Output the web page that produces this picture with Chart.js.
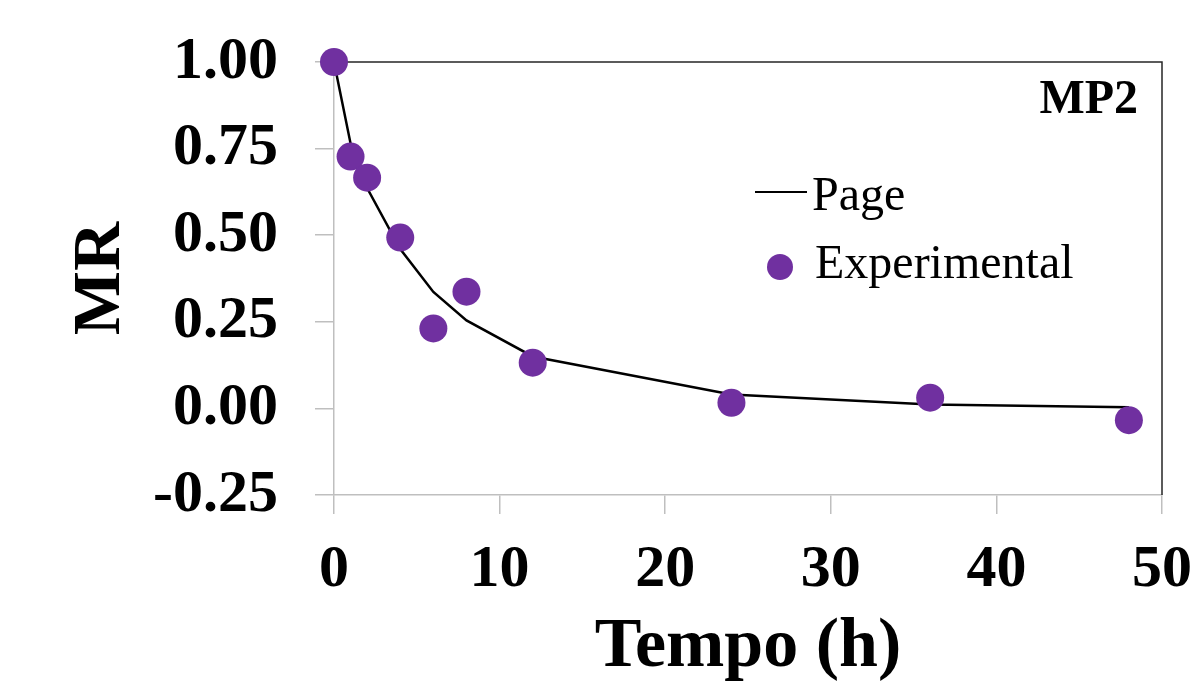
<!DOCTYPE html>
<html>
<head>
<meta charset="utf-8">
<script src="https://cdn.jsdelivr.net/npm/chart.js@4.4.1/dist/chart.umd.min.js"></script>
<style>
  html, body { margin: 0; padding: 0; background: #fff; }
  #wrap { width: 1198px; height: 681px; position: relative; }
</style>
</head>
<body>
<div id="wrap"><canvas id="mrChart"></canvas></div>
<script>
// time (h) and moisture ratio
const tempo = [0, 1, 2, 4, 6, 8, 12, 24, 36, 48];
const mrExperimental = [1.0, 0.727, 0.666, 0.493, 0.231, 0.337, 0.132, 0.016, 0.031, -0.034];
const mrPage = [1.0, 0.765, 0.636, 0.46, 0.336, 0.254, 0.15, 0.04, 0.011, 0.003];
const xTicks = [0, 10, 20, 30, 40, 50];
const yTicks = [-0.25, 0, 0.25, 0.5, 0.75, 1.0];

const serif = "'Liberation Serif', 'Times New Roman', serif";
const purple = "#7030A0";
const axisGray = "#bfbfbf";

const toPoints = (xs, ys) => xs.map((x, i) => ({ x: x, y: ys[i] }));

// top/right frame + legend + panel label drawn inside the plot
const framePlugin = {
  id: "frame",
  beforeDatasetsDraw(chart) {
    const { ctx, chartArea: a } = chart;
    ctx.save();
    ctx.strokeStyle = "#262626";
    ctx.lineWidth = 1.5;
    ctx.beginPath();
    ctx.moveTo(a.left, a.top);
    ctx.lineTo(a.right, a.top);
    ctx.lineTo(a.right, a.bottom);
    ctx.stroke();
    ctx.restore();
  },
  afterDraw(chart) {
    const { ctx, chartArea: a } = chart;
    ctx.save();
    ctx.fillStyle = "#000";
    ctx.textBaseline = "alphabetic";

    ctx.font = "bold 48px " + serif;
    ctx.textAlign = "right";
    ctx.fillText("MP2", a.right - 24, a.top + 51);

    ctx.font = "48px " + serif;
    ctx.textAlign = "left";
    // Page entry
    ctx.strokeStyle = "#000";
    ctx.lineWidth = 2;
    ctx.beginPath();
    ctx.moveTo(a.left + 421, a.top + 130);
    ctx.lineTo(a.left + 473, a.top + 130);
    ctx.stroke();
    ctx.fillText("Page", a.left + 478, a.top + 148);
    // Experimental entry
    ctx.fillStyle = purple;
    ctx.beginPath();
    ctx.arc(a.left + 446, a.top + 205, 13, 0, Math.PI * 2);
    ctx.fill();
    ctx.fillStyle = "#000";
    ctx.fillText("Experimental", a.left + 481, a.top + 216);
    ctx.restore();
  }
};

const ctx = document.getElementById("mrChart").getContext("2d");

const data = {
  datasets: [
    {
      label: "Experimental",
      data: toPoints(tempo, mrExperimental),
      showLine: false,
      pointRadius: 14,
      pointHoverRadius: 14,
      pointBackgroundColor: purple,
      pointBorderColor: purple,
      pointBorderWidth: 0,
      clip: false,
      order: 0,
    },
    {
      label: "Page",
      data: toPoints(tempo, mrPage),
      showLine: true,
      borderColor: "#000",
      borderWidth: 2.5,
      pointRadius: 0,
      tension: 0,
      clip: false,
      order: 1,
    },
  ],
};

const config = {
  type: "scatter",
  data: data,
  options: {
    responsive: true,
    maintainAspectRatio: false,
    animation: false,
    layout: {
      padding: { left: 0, top: 62, right: 36, bottom: 0 },
    },
    plugins: {
      legend: { display: false },
      tooltip: { enabled: false },
    },
    scales: {
      x: {
        type: "linear",
        min: 0,
        max: 50,
        afterBuildTicks: (scale) => {
          scale.ticks = xTicks.map((v) => ({ value: v }));
        },
        afterFit: (scale) => {
          scale.height = 186;
          scale.paddingLeft = 0;
          scale.paddingRight = 0;
        },
        ticks: {
          color: "#000",
          padding: 20,
          maxRotation: 0,
          font: { family: serif, size: 60, weight: "bold" },
        },
        grid: {
          drawOnChartArea: false,
          drawTicks: true,
          tickLength: 19,
          color: axisGray,
          lineWidth: 1.5,
        },
        border: { color: axisGray, width: 1.5 },
        title: {
          display: true,
          text: "Tempo (h)",
          color: "#000",
          padding: { top: 0, bottom: -9 },
          font: { family: serif, size: 70, weight: "bold" },
        },
      },
      y: {
        type: "linear",
        min: -0.25,
        max: 1.0,
        afterBuildTicks: (scale) => {
          scale.ticks = yTicks.map((v) => ({ value: v }));
        },
        afterFit: (scale) => {
          scale.width = 334;
          scale.paddingTop = 0;
          scale.paddingBottom = 0;
        },
        ticks: {
          color: "#000",
          padding: 37,
          callback: (v) => Number(v).toFixed(2),
          font: { family: serif, size: 60, weight: "bold" },
        },
        grid: {
          drawOnChartArea: false,
          drawTicks: true,
          tickLength: 19,
          color: axisGray,
          lineWidth: 1.5,
        },
        border: { color: axisGray, width: 1.5 },
        title: {
          display: true,
          text: "MR",
          color: "#000",
          padding: { top: 61, bottom: 0 },
          font: { family: serif, size: 68, weight: "bold" },
        },
      },
    },
  },
  plugins: [framePlugin],
};

const mrChart = new Chart(ctx, config);
</script>
</body>
</html>
